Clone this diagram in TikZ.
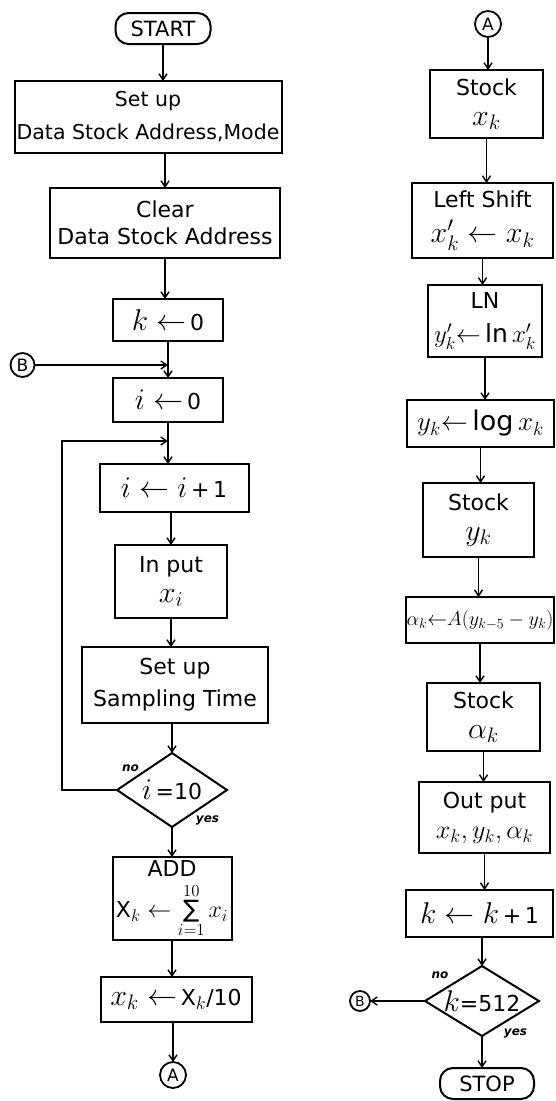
\RequirePackage{fix-cm}
\documentclass[tikz,border=0pt]{standalone}
\usepackage{fontspec}
\setmainfont{DejaVu Sans}
\usetikzlibrary{arrows.meta,positioning,shapes.geometric}
\newcommand{\boxfont}{\fontsize{22}{30}\selectfont}
\newcommand{\mth}[2][30]{{\fontsize{#1}{#1}\selectfont$#2$}}
\newcommand{\bigsum}{\mathop{\hbox{\fontsize{24}{24}\selectfont ∑}}}

\begin{document}
\begin{tikzpicture}[x=1pt, y=1pt,
  box/.style={rectangle, draw, line width=2pt, outer sep=0pt, align=center, inner sep=1pt, font=\boxfont},
  term/.style={rectangle, rounded corners=13pt, draw, line width=2pt, outer sep=0pt, minimum width=95pt, minimum height=31pt, inner sep=1pt, font=\fontsize{21}{21}\selectfont},
  decide/.style={diamond, draw, line width=2pt, outer sep=0pt, inner sep=-2pt, aspect=1.5, font=\boxfont},
  conn/.style={circle, draw, line width=1.8pt, outer sep=0pt, inner sep=0pt, font=\fontsize{17}{17}\selectfont},
  arrow/.style={-{Straight Barb[length=6pt,width=8pt]}, line width=1.4pt},
  lbl/.style={font=\fontsize{12}{12}\selectfont\bfseries\itshape, inner sep=0pt}
]
\useasboundingbox (0,0) rectangle (555,-1101);
% left column
\node[term] (start) at (163,-28.5) {START};
\node[box, below=37pt of start, xshift=-15pt, minimum width=267pt, minimum height=72pt, font=\fontsize{20.5}{33}\selectfont] (setup) {Set up\\Data Stock Address,Mode};
\node[box, below=35pt of setup, xshift=17pt, minimum width=230pt, minimum height=70pt, font=\fontsize{22}{27}\selectfont] (clear) {Clear\\Data Stock Address};
\node[box, below=41pt of clear, xshift=3pt, minimum width=110pt, minimum height=42pt] (k0) {\mth{k\leftarrow}\,0};
\node[box, below=37pt of k0, minimum width=110pt, minimum height=44pt] (i0) {\mth{i\leftarrow}\,0};
\node[box, below=42pt of i0, xshift=6pt, minimum width=149pt, minimum height=48pt] (inc) {\mth{i\leftarrow i}\,+\,1};
\node[box, below=33pt of inc, xshift=-3pt, minimum width=112pt, minimum height=73pt] (input) {In put\\\mth{x_i}};
\node[box, below=29pt of input, xshift=4pt, minimum width=186pt, minimum height=76pt, font=\fontsize{22}{32}\selectfont] (samp) {Set up\\Sampling Time};
\node[decide, below=30pt of samp, xshift=-3pt, minimum width=110pt, minimum height=74pt] (test1) {\mth{i}\,=10};
\node[box, below=30pt of test1, minimum width=119pt, minimum height=83pt, font=\fontsize{22}{41}\selectfont] (add) {ADD\\X\mth[24]{{}_k\leftarrow\bigsum\limits_{\rule{0pt}{10pt}i=1}^{10\rule[-3pt]{0pt}{0pt}}x_i}};
\node[box, below=37pt of add, xshift=4pt, minimum width=151pt, minimum height=45pt] (avg) {\mth{x_k\leftarrow}\,X\mth[26]{{}_k}/10};
\node[conn, below=40pt of avg, xshift=-3pt, minimum size=26pt] (A1) {A};
\node[conn, minimum size=24pt] (B1) at (22.5,-365) {B};
\node[lbl] (no1) at ([shift={(-14,3)}]test1.north west) {no};
\node[lbl] (yes1) at ([shift={(8,-12)}]test1.south east) {yes};
\coordinate (jB) at (B1.east -| k0.south);
\coordinate (jL) at ([yshift=-19pt]i0.south);
\draw[arrow] (start.south) -- (start.south |- setup.north);
\draw[arrow] (clear.north |- setup.south) -- (clear.north);
\draw[arrow] (clear.south) -- (clear.south |- k0.north);
\draw[arrow] (k0.south) -- (k0.south |- i0.north);
\draw[arrow] (B1.east) -- (jB);
\draw[arrow] (i0.south) -- (i0.south |- inc.north);
\draw[arrow] (test1.west) -- ++(-55pt,0) |- (jL);
\draw[arrow] (input.north |- inc.south) -- (input.north);
\draw[arrow] (input.south) -- (input.south |- samp.north);
\draw[arrow] (test1.north |- samp.south) -- (test1.north);
\draw[arrow] (test1.south) -- (test1.south |- add.north);
\draw[arrow] (add.south) -- (add.south |- avg.north);
\draw[arrow] (A1.north |- avg.south) -- (A1.north);
% right column
\node[conn, minimum size=26pt] (A2) at (488,-24) {A};
\node[box, below=33pt of A2, xshift=-1.5pt, minimum width=113pt, minimum height=68pt] (stx) {Stock\\\mth{x_k}};
\node[box, below=45pt of stx, xshift=-4pt, minimum width=141pt, minimum height=75pt, font=\fontsize{22}{35}\selectfont] (shift) {Left Shift\\\mth{x'_k\leftarrow x_k}};
\node[box, below=27pt of shift, xshift=2.5pt, minimum width=114pt, minimum height=72pt, font=\fontsize{22}{34}\selectfont] (ln) {LN\\\mth[25]{y'_k{\leftarrow}\ln x'_k}};
\node[box, below=43pt of ln, xshift=-4.5pt, minimum width=147pt, minimum height=47pt] (logx) {\mth[27]{y_k{\leftarrow}\log x_k}};
\node[box, below=36pt of logx, xshift=-2pt, minimum width=111pt, minimum height=74pt] (sty) {Stock\\\mth{y_k}};
\node[box, below=40pt of sty, xshift=1.5pt, minimum width=144pt, minimum height=46pt] (alpha) {\mth[20]{\alpha_k{\leftarrow}A(y_{k-5}-y_k)}};
\node[box, below=40pt of alpha, xshift=3.5pt, minimum width=113pt, minimum height=68pt] (sta) {Stock\\\mth{\alpha_k}};
\node[box, below=31pt of sta, xshift=1pt, minimum width=131pt, minimum height=71pt] (out) {Out put\\\mth[26]{x_k,y_k,\alpha_k}};
\node[box, below=37pt of out, xshift=-5pt, minimum width=147pt, minimum height=47pt] (inck) {\mth{k\leftarrow k}\,+\,1};
\node[decide, below=29pt of inck, xshift=2.5pt, minimum width=114pt, minimum height=70pt] (test2) {\mth{k}=512};
\node[term, below=32pt of test2, xshift=5pt, minimum width=94pt] (stop) {STOP};
\node[conn, left=55pt of test2, minimum size=20pt, font=\fontsize{14}{14}\selectfont] (B2) {B};
\node[lbl] (no2) at ([shift={(-13.5,8.5)}]test2.north west) {no};
\node[lbl] (yes2) at ([shift={(5,-14.5)}]test2.south east) {yes};
\draw[arrow] (A2.south) -- (A2.south |- stx.north);
\draw[arrow] (stx.south) -- (stx.south |- shift.north);
\draw[arrow] (shift.south) -- (shift.south |- ln.north);
\draw[arrow] (ln.south) -- (ln.south |- logx.north);
\draw[arrow] (logx.south) -- (logx.south |- sty.north);
\draw[arrow] (sty.south) -- (sty.south |- alpha.north);
\draw[arrow] (alpha.south) -- (alpha.south |- sta.north);
\draw[arrow] (sta.south) -- (sta.south |- out.north);
\draw[arrow] (out.south) -- (out.south |- inck.north);
\draw[arrow] (test2.north |- inck.south) -- (test2.north);
\draw[arrow] (test2.west) -- (B2.east);
\draw[arrow] (test2.south) -- (test2.south |- stop.north);
\end{tikzpicture}
\end{document}
